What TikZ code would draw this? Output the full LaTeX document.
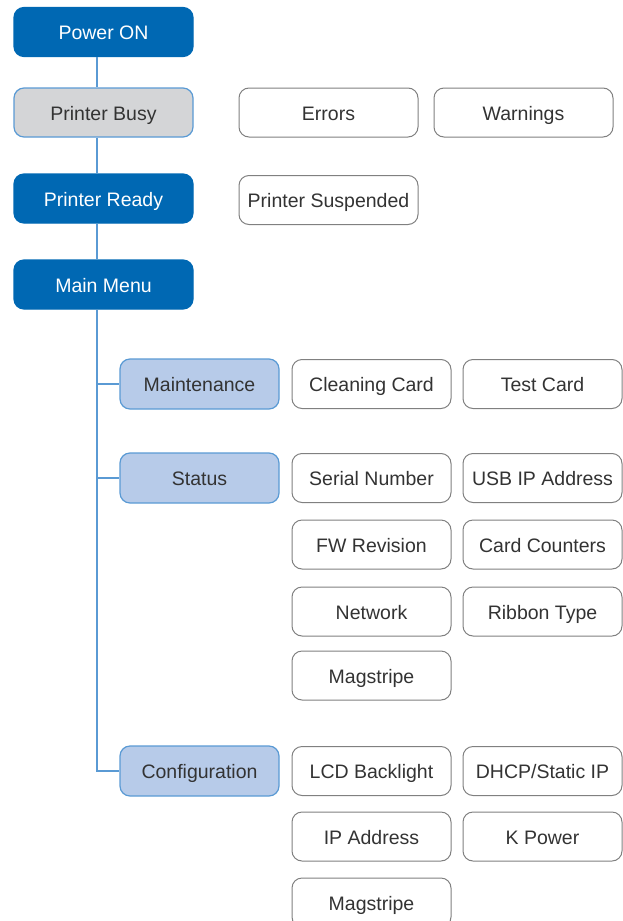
\documentclass[tikz,border=0pt]{standalone}
\usepackage{fontspec}
\setsansfont{Liberation Sans}
\usepackage{xcolor}
\usepackage{tikz}
\usetikzlibrary{positioning,calc}
\definecolor{menublue}{HTML}{0068B3}
\definecolor{linkblue}{HTML}{5A9AD4}
\definecolor{subfill}{HTML}{B7CBE9}
\definecolor{busyfill}{HTML}{D4D5D7}
\definecolor{leafedge}{HTML}{808080}
\definecolor{leaftext}{HTML}{333333}
\tikzset{
  mbox/.style={draw=menublue, fill=menublue, rounded corners=10pt, line width=1.2pt, align=center, minimum width=179pt, minimum height=49pt, inner sep=2pt, text height=17pt, text depth=2pt, text=white, font=\sffamily\fontsize{19.5}{22}\selectfont},
  mbusy/.style={mbox, draw=linkblue, fill=busyfill, text=leaftext},
  mgroup/.style={draw=linkblue, fill=subfill, rounded corners=10pt, line width=1.2pt, align=center, minimum width=159pt, minimum height=50pt, inner sep=2pt, text height=17pt, text depth=2pt, text=leaftext, font=\sffamily\fontsize{19.5}{22}\selectfont},
  mleaf/.style={draw=leafedge, fill=white, rounded corners=10pt, line width=1pt, align=center, minimum width=159pt, minimum height=49pt, inner sep=2pt, text height=17pt, text depth=2pt, text=leaftext, font=\sffamily\fontsize{19.5}{22}\selectfont},
  mleafwide/.style={mleaf, minimum width=179pt},
  mlink/.style={draw=linkblue, line width=2pt}
}
\begin{document}
\begin{tikzpicture}[x=1pt,y=-1pt]
\useasboundingbox (0,0) rectangle (622,921);
\coordinate (trunk) at (97,0);

\node[mbox] (pon) at (103.5,32) {Power ON};
\node[mbusy] (pbusy) at (103.5,112.5) {Printer Busy};
\node[mbox] (pready) at (103.5,198.5) {Printer Ready};
\node[mbox] (mmenu) at (103.5,284.5) {Main Menu};

\node[mleafwide] (errors) at (328.5,112.5) {Errors};
\node[mleafwide] (warnings) at (523.5,112.5) {Warnings};
\node[mleafwide] (psusp) at (328.5,200) {Printer Suspended};

\node[mgroup] (maint) at (199.5,384) {Maintenance};
\node[mgroup] (status) at (199.5,478) {Status};
\node[mgroup] (config) at (199.5,771) {Configuration};

\node[mleaf] (clean) at (371.5,384) {Cleaning Card};
\node[mleaf] (test) at (542.5,384) {Test Card};
\node[mleaf] (serial) at (371.5,478) {Serial Number};
\node[mleaf] (usbip) at (542.5,478) {USB IP Address};
\node[mleaf] (fwrev) at (371.5,544.5) {FW Revision};
\node[mleaf] (counters) at (542.5,544.5) {Card Counters};
\node[mleaf] (network) at (371.5,611.5) {Network};
\node[mleaf] (ribbon) at (542.5,611.5) {Ribbon Type};
\node[mleaf] (magstat) at (371.5,675.5) {Magstripe};
\node[mleaf] (lcd) at (371.5,771) {LCD Backlight};
\node[mleaf] (dhcp) at (542.5,771) {DHCP/Static IP};
\node[mleaf] (ipaddr) at (371.5,836.5) {IP Address};
\node[mleaf] (kpower) at (542.5,836.5) {K Power};
\node[mleaf] (magconf) at (371.5,902.5) {Magstripe};

% main chain
\draw[mlink] (pon.south -| trunk) -- (pbusy.north -| trunk);
\draw[mlink] (pbusy.south -| trunk) -- (pready.north -| trunk);
\draw[mlink] (pready.south -| trunk) -- (mmenu.north -| trunk);
% menu branches
\draw[mlink] (mmenu.south -| trunk) |- (config.west);
\draw[mlink] (trunk |- maint.west) -- (maint.west);
\draw[mlink] (trunk |- status.west) -- (status.west);
\end{tikzpicture}
\end{document}
